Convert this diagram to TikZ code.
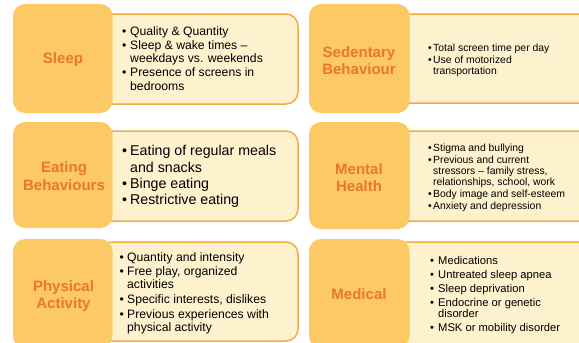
\documentclass[tikz,border=0pt]{standalone}
\usepackage{fontspec}
\setmainfont{Liberation Sans}
\definecolor{sqfill}{HTML}{FDC964}
\definecolor{labcol}{HTML}{E8782A}
\definecolor{boxfill}{HTML}{FEF1CD}
\definecolor{boxline}{HTML}{F5AA45}
\newlength\bind
\newlength\isep
\newcommand\bi[1]{\noindent\hangindent=\bind\hangafter=1\makebox[\bind][l]{•}#1\par}
\newcommand\bn[1]{\vskip\isep\bi{#1}}
\newcommand\blist[5]{\vtop{\hsize=300pt\parindent=0pt\parskip=0pt\rightskip=0pt plus 1fil\fontsize{#1}{#2}\selectfont\setlength\bind{#3}\setlength\isep{#4}#5}}
\tikzset{
  sq/.style={fill=sqfill, draw=none, rounded corners=12pt},
  bx/.style={fill=boxfill, draw=boxline, line width=1.5pt, rounded corners=12pt},
  lab/.style={text=labcol, font=\bfseries\fontsize{15}{17.3}\selectfont, inner sep=0pt, anchor=base},
  txt/.style={inner sep=0pt, anchor=base west, text=black}
}
\begin{document}
\begin{tikzpicture}[x=1pt,y=-1pt]
\useasboundingbox (0,0) rectangle (579,343);
\clip (0,0) rectangle (579,343);
% boxes
\draw[bx] (100,14) rectangle (298,104);
\draw[bx] (100,131) rectangle (298,221);
\draw[bx] (100,242) rectangle (298,341);
\draw[bx] (396,14) rectangle (620,103);
\draw[bx] (396,131) rectangle (620,221);
\draw[bx] (396,242) rectangle (620,365);
% squares
\fill[sq] (13,4) rectangle (112.5,113);
\fill[sq] (13,122) rectangle (112.5,228);
\fill[sq] (13,239) rectangle (112.5,348);
\fill[sq] (309,4) rectangle (409.5,113);
\fill[sq] (309,122) rectangle (409.5,229);
\fill[sq] (309,239) rectangle (409.5,348);
% labels
\node[lab] (l1) at (63,63.3) {Sleep};
\node[lab] (l2) at (64,172.7) {\begin{tabular}[t]{@{}c@{}}Eating\\Behaviours\end{tabular}};
\node[lab] (l3) at (63.5,291.5) {\begin{tabular}[t]{@{}c@{}}Physical\\Activity\end{tabular}};
\node[lab] (l4) at (359,57.3) {\begin{tabular}[t]{@{}c@{}}Sedentary\\Behaviour\end{tabular}};
\node[lab] (l5) at (359,174.3) {\begin{tabular}[t]{@{}c@{}}Mental\\Health\end{tabular}};
\node[lab] (l6) at (359,299.3) {Medical};
% texts
\node[txt] (t1) at (122,35.5) {\blist{12.2}{13.7}{8pt}{0pt}{%
\bi{Quality \& Quantity}%
\bn{Sleep \& wake times –\newline weekdays vs. weekends}%
\bn{Presence of screens in\newline bedrooms}}};
\node[txt] (t2) at (122,155.7) {\blist{14.2}{16.4}{8pt}{0pt}{%
\bi{Eating of regular meals\newline and snacks}%
\bn{Binge eating}%
\bn{Restrictive eating}}};
\node[txt] (t3) at (119.5,261) {\blist{12.2}{13.3}{7.5pt}{1.3pt}{%
\bi{Quantity and intensity}%
\bn{Free play, organized\newline activities}%
\bn{Specific interests, dislikes}%
\bn{Previous experiences with\newline physical activity}}};
\node[txt] (t4) at (428,51.5) {\blist{10.4}{10.6}{5pt}{1.5pt}{%
\bi{Total screen time per day}%
\bn{Use of motorized\newline transportation}}};
\node[txt] (t5) at (428,151.5) {\blist{10.4}{11}{5pt}{1.1pt}{%
\bi{Stigma and bullying}%
\bn{Previous and current\newline stressors – family stress,\newline relationships, school, work}%
\bn{Body image and self-esteem}%
\bn{Anxiety and depression}}};
\node[txt] (t6) at (430,264.7) {\blist{11.2}{11.4}{8pt}{2.4pt}{%
\bi{Medications}%
\bn{Untreated sleep apnea}%
\bn{Sleep deprivation}%
\bn{Endocrine or genetic\newline disorder}%
\bn{MSK or mobility disorder}}};
\end{tikzpicture}
\end{document}
